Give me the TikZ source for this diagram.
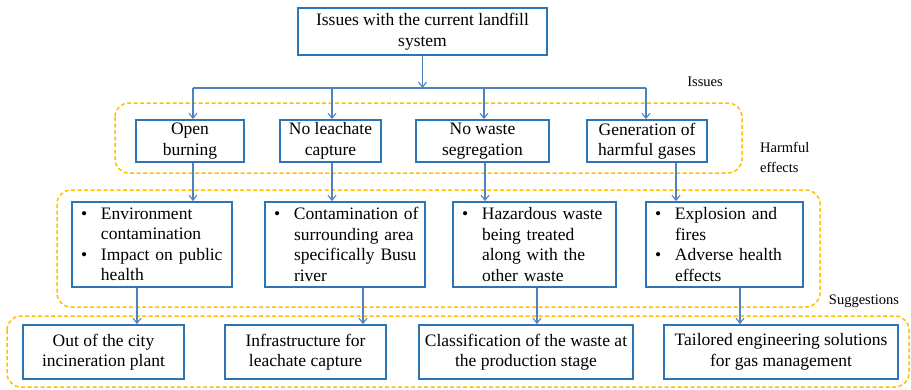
\documentclass[tikz,border=0pt]{standalone}
\usepackage{fontspec}
\setmainfont{Liberation Serif}
\usetikzlibrary{arrows.meta}
\definecolor{boxblue}{RGB}{46,117,182}
\definecolor{arrblue}{RGB}{79,129,189}
\definecolor{grpgold}{RGB}{255,192,0}
\newcommand\bline[1]{\makebox[20pt][l]{\textbullet}\mbox{#1}}
\newcommand\bcont[1]{\hspace*{20pt}\mbox{#1}}
\begin{document}
\begin{tikzpicture}[x=1pt,y=-1pt,
  box/.style={draw=boxblue, line width=1.8pt, fill=white, align=center,
    font=\fontsize{17.5}{20.5}\selectfont, inner sep=0pt},
  ebox/.style={box, align=left, inner xsep=9pt, minimum height=85pt},
  arr/.style={draw=arrblue, line width=1.1pt, -{Straight Barb[length=5pt,width=8pt]}},
  ln/.style={draw=arrblue, line width=1.1pt},
  grp/.style={draw=grpgold, line width=1.5pt, dash pattern=on 4pt off 2.5pt, rounded corners=14pt},
  lbl/.style={font=\fontsize{14.5}{20}\selectfont, inner sep=0pt}]
\useasboundingbox (0,0) rectangle (911,389);
\fill[white] (0,0) rectangle (911,389);

% groups
\draw[grp] (115,103) rectangle (742,173);
\draw[grp] (57,190) rectangle (820,307);
\draw[grp] (7,316) rectangle (909,387);

% labels
\node[lbl] (lissues) at (705,82) {Issues};
\node[lbl, anchor=west, align=left] (lharm) at (760,157) {Harmful\\effects};
\node[lbl] (lsugg) at (864,301) {Suggestions};

% top
\node[box, minimum width=249pt, minimum height=47pt] (top) at (422.5,31.5)
  {Issues with the current landfill\\system};

% issues
\node[box, minimum width=108pt, minimum height=42pt] (i1) at (190,141) {Open\\burning};
\node[box, minimum width=101pt, minimum height=42pt] (i2) at (330.5,141) {No leachate\\capture};
\node[box, minimum width=133pt, minimum height=42pt] (i3) at (482.5,141) {No waste\\segregation};
\node[box, minimum width=120pt, minimum height=42pt] (i4) at (647,141) {Generation of\\harmful gases};

% effects
\node[ebox, text width=142pt] (e1) at (152,244.5)
  {\bline{Environment}\\\bcont{contamination}\\\bline{Impact on public}\\\bcont{health}};
\node[ebox, text width=142pt] (e2) at (345,244.5)
  {\bline{Contamination of}\\\bcont{surrounding area}\\\bcont{specifically Busu}\\\bcont{river}};
\node[ebox, text width=145pt] (e3) at (534.5,244.5)
  {\bline{Hazardous waste}\\\bcont{being treated}\\\bcont{along with the}\\\bcont{other waste}};
\node[ebox, text width=139pt] (e4) at (724.5,244.5)
  {\bline{Explosion and}\\\bcont{fires}\\\bline{Adverse health}\\\bcont{effects}};

% suggestions
\node[box, minimum width=161pt, minimum height=54pt] (s1) at (103.5,352) {Out of the city\\incineration plant};
\node[box, minimum width=161pt, minimum height=54pt] (s2) at (305.5,352) {Infrastructure for\\leachate capture};
\node[box, minimum width=214pt, minimum height=54pt] (s3) at (526,352) {Classification of the waste at\\the production stage};
\node[box, minimum width=234pt, minimum height=54pt] (s4) at (781,352) {Tailored engineering solutions\\for gas management};

% connector x positions
\coordinate (j0) at (422.5,88);
\coordinate (j1) at (193,88);
\coordinate (j2) at (332,88);
\coordinate (j3) at (484,88);
\coordinate (j4) at (646,88);
\coordinate (b1) at (193,0);
\coordinate (b2) at (332,0);
\coordinate (b3) at (485,0);
\coordinate (b4) at (676,0);
\coordinate (c1) at (137,0);
\coordinate (c2) at (363,0);
\coordinate (c3) at (537,0);
\coordinate (c4) at (740,0);

% connectors
\draw[arr] (top.south -| j0) -- (j0);
\draw[ln] (j1) -- (j4);
\draw[arr] (j1) -- (i1.north -| j1);
\draw[arr] (j2) -- (i2.north -| j2);
\draw[arr] (j3) -- (i3.north -| j3);
\draw[arr] (j4) -- (i4.north -| j4);

\draw[arr] (i1.south -| b1) -- (e1.north -| b1);
\draw[arr] (i2.south -| b2) -- (e2.north -| b2);
\draw[arr] (i3.south -| b3) -- (e3.north -| b3);
\draw[arr] (i4.south -| b4) -- (e4.north -| b4);

\draw[arr] (e1.south -| c1) -- (s1.north -| c1);
\draw[arr] (e2.south -| c2) -- (s2.north -| c2);
\draw[arr] (e3.south -| c3) -- (s3.north -| c3);
\draw[arr] (e4.south -| c4) -- (s4.north -| c4);
\end{tikzpicture}
\end{document}
